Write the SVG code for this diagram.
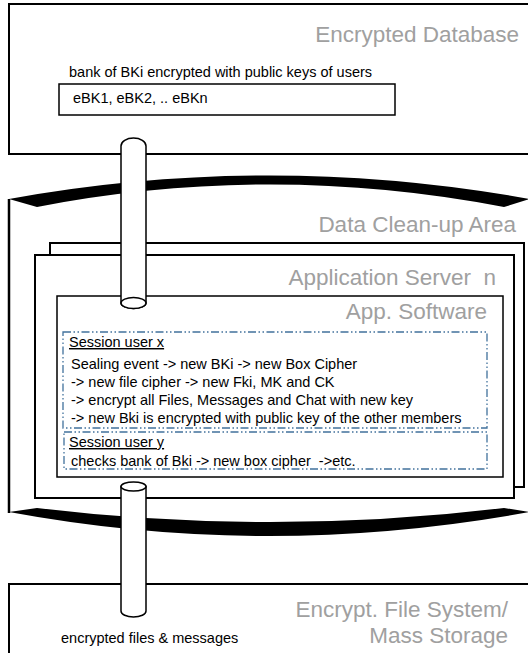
<svg xmlns="http://www.w3.org/2000/svg" width="528" height="653" viewBox="0 0 528 653">
<defs>
<style>
.box{fill:#fff;stroke:#000;stroke-width:2}
.thin{fill:#fff;stroke:#000;stroke-width:1.5}
.band{fill:#000;stroke:none}
.title{font-family:"Liberation Sans",Arial,sans-serif;font-size:22.5px;fill:#a0a0a0;text-anchor:end}
.txt{font-family:"Liberation Sans",Arial,sans-serif;font-size:14.5px;fill:#000}
.ul{text-decoration:underline}
.sess{fill:none;stroke:#41719c;stroke-width:1.3;stroke-dasharray:8 2.5 1.5 2.5 1.5 2.5}
.pipe{fill:#fff;stroke:#000;stroke-width:1.5}
</style>
</defs>
<rect width="528" height="653" fill="#fff"/>
<g id="encrypted-database">
<rect class="box" x="9" y="4" width="530" height="150"/>
<text class="title" x="519" y="42">Encrypted Database</text>
<text class="txt" x="69" y="77">bank of BKi encrypted with public keys of users</text>
</g>
<g id="key-bank">
<rect class="thin" x="59" y="84" width="336" height="31"/>
<text class="txt" x="73" y="103">eBK1, eBK2, .. eBKn</text>
</g>
<g id="file-system">
<rect class="box" x="9" y="584" width="530" height="80"/>
<text class="title" x="508" y="617">Encrypt. File System/</text>
<text class="title" x="508" y="643">Mass Storage</text>
<text class="txt" x="61" y="643">encrypted files &amp; messages</text>
</g>
<g id="cleanup-area">
<line x1="9" y1="199" x2="9" y2="513" stroke="#000" stroke-width="2.5"/>
<path class="band" d="M9,199 Q268,152 530,199 L504,207 Q270,162 37,207 Z"/>
<path class="band" d="M9,512 Q268,560 530,512 L504,508 Q270,536 37,508 Z"/>
<text class="title" x="516" y="232">Data Clean-up Area</text>
</g>
<g id="app-server-back">
<rect class="box" x="50" y="243" width="474" height="244"/>
</g>
<g id="app-server">
<rect class="box" x="35" y="255" width="479" height="243"/>
<text class="title" x="496" y="285" xml:space="preserve">Application Server  n</text>
</g>
<g id="app-software">
<rect class="thin" x="57" y="296" width="446" height="181"/>
<text class="title" x="487" y="319">App. Software</text>
</g>
<g id="session-x">
<rect class="sess" x="63" y="332" width="424" height="96"/>
<text class="txt ul" x="69" y="347">Session user x</text>
<text class="txt" x="71" y="369">Sealing event -&gt; new BKi -&gt; new Box Cipher</text>
<text class="txt" x="71" y="387">-&gt; new file cipher -&gt; new Fki, MK and CK</text>
<text class="txt" x="71" y="405">-&gt; encrypt all Files, Messages and Chat with new key</text>
<text class="txt" x="71" y="423">-&gt; new Bki is encrypted with public key of the other members</text>
</g>
<g id="session-y">
<rect class="sess" x="64" y="432" width="423" height="37"/>
<text class="txt ul" x="69" y="447">Session user y</text>
<text class="txt" x="71" y="466" xml:space="preserve">checks bank of Bki -&gt; new box cipher  -&gt;etc.</text>
</g>
<g id="connectors">
<g id="pipe-db-app">
<path class="pipe" d="M121,146 A12.5,8 0 0 1 146,146 L146,303 A12.5,5.5 0 0 1 121,303 Z"/>
<ellipse class="pipe" cx="133.5" cy="303" rx="12.5" ry="5.5"/>
</g>
<g id="pipe-app-fs">
<path class="pipe" d="M121,486.5 L121,611 A12.5,6 0 0 0 146,611 L146,486.5 Z"/>
<ellipse class="pipe" cx="133.5" cy="486.5" rx="12.5" ry="4.5"/>
</g>
</g>
</svg>
